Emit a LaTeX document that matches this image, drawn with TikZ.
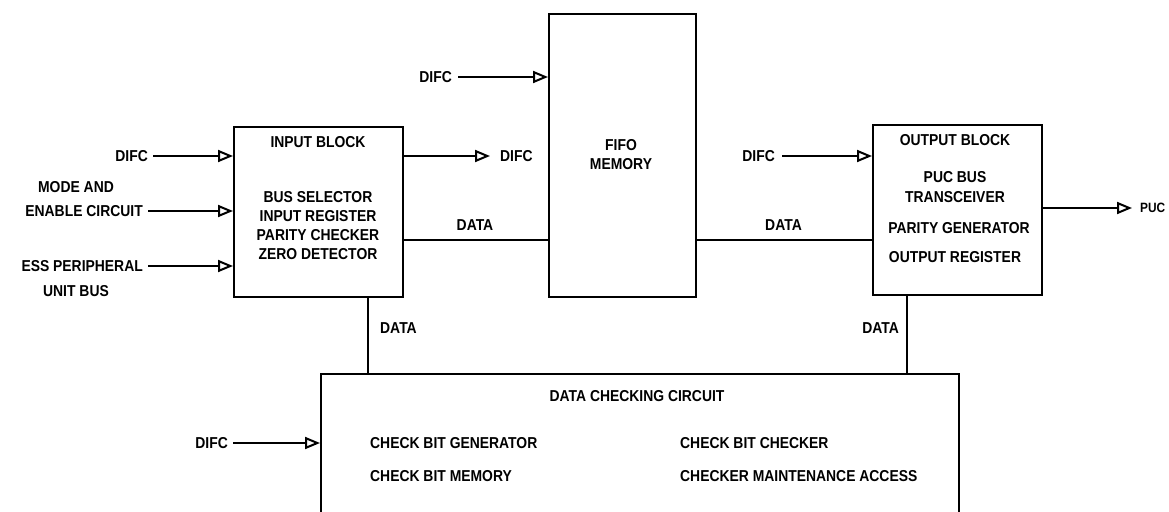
\documentclass[tikz,border=0pt]{standalone}
\usepackage{fontspec}
\setmainfont[FakeStretch=0.88]{Liberation Sans}
\usetikzlibrary{arrows.meta}
\tikzset{
  blk/.style={draw, line width=2pt, inner sep=0pt},
  lbl/.style={inner sep=0pt, font=\fontsize{15.8}{18}\selectfont\bfseries},
  sig/.style={line width=1.6pt, -{Triangle[open, length=15pt, width=12pt, line width=2pt]}},
  wire/.style={line width=1.6pt},
}
\begin{document}
\begin{tikzpicture}[x=1pt, y=-1pt]
\clip (0,0) rectangle (1169,511);
\fill[white] (0,0) rectangle (1169,511);
% blocks
\node[blk, minimum width=169pt, minimum height=170pt, anchor=north west] (in) at (233,126) {};
\node[blk, minimum width=147pt, minimum height=283pt, anchor=north west] (fifo) at (548,13) {};
\node[blk, minimum width=169pt, minimum height=170pt, anchor=north west] (out) at (872,124) {};
\node[blk, minimum width=638pt, minimum height=180pt, anchor=north west] (dcc) at (320,373) {};
% input block text
\node[lbl] (inT) at (318,142) {INPUT BLOCK};
\node[lbl] (in1) at (318,197) {BUS SELECTOR};
\node[lbl] (in2) at (318,216) {INPUT REGISTER};
\node[lbl] (in3) at (318,235) {PARITY CHECKER};
\node[lbl] (in4) at (318,254) {ZERO DETECTOR};
% fifo text
\node[lbl] (f1) at (621,145) {FIFO};
\node[lbl] (f2) at (621,164) {MEMORY};
% output block text
\node[lbl] (oT) at (955,140) {OUTPUT BLOCK};
\node[lbl] (o1) at (955,177) {PUC BUS};
\node[lbl] (o2) at (955,197) {TRANSCEIVER};
\node[lbl] (o3) at (959,228) {PARITY GENERATOR};
\node[lbl] (o4) at (955,257) {OUTPUT REGISTER};
% data checking circuit text
\node[lbl] (dT) at (637,396) {DATA CHECKING CIRCUIT};
\node[lbl, anchor=west] (d1) at (370,443) {CHECK BIT GENERATOR};
\node[lbl, anchor=west] (d2) at (370,476) {CHECK BIT MEMORY};
\node[lbl, anchor=west] (d3) at (680,443) {CHECK BIT CHECKER};
\node[lbl, anchor=west] (d4) at (680,476) {CHECKER MAINTENANCE ACCESS};
% input signals
\node[lbl, anchor=east] (s1) at (148,156) {DIFC};
\node[lbl] (s2a) at (76,187) {MODE AND};
\node[lbl, anchor=east] (s2) at (143,211) {ENABLE CIRCUIT};
\node[lbl, anchor=east] (s3) at (143,266) {ESS PERIPHERAL};
\node[lbl] (s3b) at (76,291) {UNIT BUS};
\draw[sig] (s1.east) ++(5pt,0) -- (in.west |- s1.east);
\draw[sig] (s2.east) ++(5pt,0) -- (in.west |- s2.east);
\draw[sig] (s3.east) ++(5pt,0) -- (in.west |- s3.east);
% difc out of input block
\node[lbl, anchor=west] (dOut) at (500,156) {DIFC};
\draw[sig] (in.east |- dOut.west) -- ([xshift=-10pt]dOut.west);
% fifo difc
\node[lbl, anchor=east] (fD) at (452,77) {DIFC};
\draw[sig] (fD.east) ++(6pt,0) -- (fifo.west |- fD.east);
% output difc
\node[lbl, anchor=east] (oD) at (775,156) {DIFC};
\draw[sig] (oD.east) ++(7pt,0) -- (out.west |- oD.east);
% PUC
\node[lbl, anchor=west, font=\fontsize{13.5}{15}\selectfont\bfseries] (puc) at (1140,208) {PUC};
\draw[sig] (out.east |- puc.west) -- ([xshift=-8pt]puc.west);
% data wires
\coordinate (a1) at (402,240);
\draw[wire] (a1) -- (fifo.west |- a1) node[lbl, midway, above=9pt] (dl1) {DATA};
\coordinate (a2) at (695,240);
\draw[wire] (a2) -- (out.west |- a2) node[lbl, pos=0.5, above=9pt] (dl2) {DATA};
\coordinate (b1) at (368,296);
\draw[wire] (b1) -- (b1 |- dcc.north);
\node[lbl, anchor=west] (dl3) at (380,328) {DATA};
\coordinate (b2) at (907,294);
\draw[wire] (b2) -- (b2 |- dcc.north);
\node[lbl, anchor=east] (dl4) at (899,328) {DATA};
% dcc difc
\node[lbl, anchor=east] (dD) at (228,443) {DIFC};
\draw[sig] (dD.east) ++(5pt,0) -- (dcc.west |- dD.east);
\end{tikzpicture}
\end{document}
